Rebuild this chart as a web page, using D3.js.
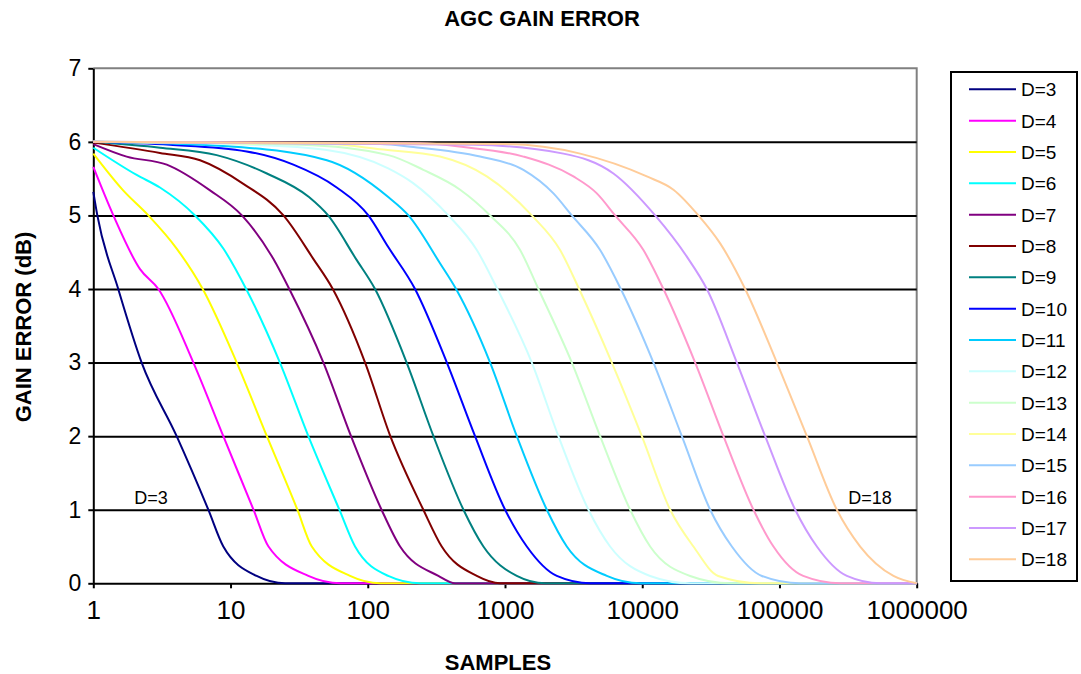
<!DOCTYPE html>
<html>
<head>
<meta charset="utf-8">
<script src="https://cdn.jsdelivr.net/npm/d3@7"></script>
<style>
  body { margin: 0; background: #fff; }
  text { font-family: Arial, "Liberation Sans", sans-serif; }
</style>
</head>
<body>
<div id="chart"></div>
<script>
// Each curve: [samples, gain error (dB)]
const curveD3 = [[1, 5.32], [1.07, 5], [1.52, 4], [2.25, 3], [4.05, 2], [6.89, 1], [8.86, 0.5], [15.5, 0.1], [25, 0], [1e6, 0]];
const curveD4 = [[1, 5.66], [1.4, 5], [2.19, 4.27], [2.98, 4], [5.36, 3], [8.86, 2], [14.7, 1], [18.9, 0.5], [36.9, 0.1], [63, 0], [1e6, 0]];
const curveD5 = [[1, 5.84], [1.65, 5.34], [2.52, 5], [4.05, 4.55], [6.27, 4], [11.1, 3], [18.4, 2], [30.7, 1], [39.1, 0.5], [74.3, 0.1], [123, 0], [1e6, 0]];
const curveD6 = [[1, 5.92], [2.07, 5.55], [3.06, 5.38], [5.51, 5], [8.86, 4.55], [13, 4], [22.9, 3], [36.9, 2], [62.1, 1], [80.8, 0.5], [141, 0.1], [240, 0], [1e6, 0]];
const curveD7 = [[1, 5.97], [1.75, 5.8], [3.43, 5.69], [7.09, 5.34], [12.1, 5], [20.5, 4.41], [26.8, 4], [47.5, 3], [75.5, 2], [126, 1], [172, 0.5], [327, 0.1], [433, 0], [1e6, 0]];
const curveD8 = [[1, 5.99], [3.06, 5.85], [6, 5.75], [12.4, 5.43], [24.3, 5], [40.1, 4.41], [55.6, 4], [95.6, 3], [146, 2], [254, 1], [346, 0.5], [623, 0.1], [921, 0], [1e6, 0]];
const curveD9 = [[1, 6], [3.06, 5.92], [7.93, 5.82], [18.4, 5.57], [37.3, 5.25], [51.4, 5], [82, 4.41], [113, 4], [192, 3], [301, 2], [498, 1], [696, 0.5], [1219, 0.1], [1960, 0], [1e6, 0]];
const curveD10 = [[1, 6], [3.62, 5.96], [13.1, 5.87], [28.7, 5.69], [59.4, 5.38], [101, 5], [141, 4.57], [221, 4], [377, 3], [605, 2], [1002, 1], [1442, 0.5], [2386, 0.1], [4170, 0], [1e6, 0]];
const curveD11 = [[1, 6], [9.38, 5.94], [50.3, 5.75], [141, 5.25], [198, 5], [336, 4.35], [440, 4], [779, 3], [1219, 2], [2017, 1], [2821, 0.5], [5521, 0.1], [9660, 0], [1e6, 0]];
const curveD12 = [[1, 6], [13.9, 5.96], [50.3, 5.89], [141, 5.64], [214, 5.44], [387, 5], [623, 4.53], [880, 4], [1568, 3], [2450, 2], [4055, 1], [5834, 0.5], [11420, 0.1], [22340, 0], [1e6, 0]];
const curveD13 = [[1, 6], [32.1, 5.96], [141, 5.82], [254, 5.62], [471, 5.35], [779, 5], [1289, 4.53], [1752, 4], [3069, 3], [4933, 2], [8164, 1], [11420, 0.5], [22340, 0.1], [43750, 0], [1e6, 0]];
const curveD14 = [[1, 6], [53.1, 5.97], [123, 5.9], [336, 5.8], [737, 5.53], [1568, 5], [2521, 4.53], [3469, 4], [6002, 3], [9933, 2], [15980, 1], [23620, 0.5], [35740, 0.1], [72300, 0], [1e6, 0]];
const curveD15 = [[1, 6], [123, 5.97], [215, 5.93], [658, 5.8], [1362, 5.62], [2254, 5.3], [3069, 5], [4933, 4.53], [6982, 4], [12070, 3], [19440, 2], [31260, 1], [44990, 0.5], [74420, 0.1], [141600, 0], [1e6, 0]];
const curveD16 = [[1, 6], [241, 5.98], [498, 5.93], [1362, 5.8], [3152, 5.53], [4668, 5.3], [6345, 5], [10200, 4.53], [14270, 4], [24300, 3], [39070, 2], [64640, 1], [90420, 0.5], [148900, 0.1], [276700, 0], [1e6, 0]];
const curveD17 = [[1, 6], [588, 5.96], [2666, 5.84], [6166, 5.57], [12420, 5], [21130, 4.44], [29570, 4], [48930, 3], [78670, 2], [130200, 1], [187300, 0.5], [309900, 0.1], [542000, 0], [1e6, 0]];
const curveD18 = [[1, 6], [1031, 5.97], [3527, 5.84], [10800, 5.53], [16880, 5.35], [25680, 5], [36970, 4.62], [56230, 4], [95720, 3], [158400, 2], [262000, 1], [387500, 0.5], [677200, 0.1], [1e6, 0]];

const seriesNames = ["D=3", "D=4", "D=5", "D=6", "D=7", "D=8", "D=9", "D=10",
  "D=11", "D=12", "D=13", "D=14", "D=15", "D=16", "D=17", "D=18"];
const seriesCurves = [curveD3, curveD4, curveD5, curveD6, curveD7, curveD8, curveD9, curveD10,
  curveD11, curveD12, curveD13, curveD14, curveD15, curveD16, curveD17, curveD18];
const seriesColors = ["#000080", "#ff00ff", "#ffff00", "#00ffff", "#800080", "#800000", "#008080", "#0000ff",
  "#00ccff", "#ccffff", "#ccffcc", "#ffff99", "#99ccff", "#ff99cc", "#cc99ff", "#ffcc99"];

const xTicks = [1, 10, 100, 1000, 10000, 100000, 1000000];
const yTicks = [0, 1, 2, 3, 4, 5, 6, 7];
const gridValues = [1, 2, 3, 4, 5, 6];


/*******************************/
/*    Declare the constants    */
/*******************************/
const width = 1081;
const height = 674;
const plot = {left: 93.3, right: 916.7, top: 68.3, bottom: 583.3};

const svg = d3.select("#chart")
  .append("svg")
    .attr("width", width)
    .attr("height", height)
    .attr("viewBox", `0 0 ${width} ${height}`);


/****************************/
/*    Declare the scales    */
/****************************/
const xScale = d3.scaleLog()
  .domain([1, 1e6])
  .range([plot.left, plot.right]);

const yScale = d3.scaleLinear()
  .domain([0, 7])
  .range([plot.bottom, plot.top]);


/**************************/
/*   Frame and gridlines  */
/**************************/
// grey border on top and right like the excel plot area
svg.append("path")
  .attr("d", `M${plot.left},${plot.top}H${plot.right}V${plot.bottom}`)
  .attr("fill", "none")
  .attr("stroke", "#808080")
  .attr("stroke-width", 2);

svg.append("g")
  .attr("transform", `translate(${plot.left},0)`)
  .call(d3.axisLeft(yScale).tickValues(gridValues).tickSize(-(plot.right - plot.left)).tickFormat(""))
  .call(g => g.select(".domain").remove())
  .call(g => g.selectAll("line").attr("stroke", "#000").attr("stroke-width", 2));


/**************************/
/*      Add the axes      */
/**************************/
const leftAxis = d3.axisLeft(yScale)
  .tickValues(yTicks)
  .tickFormat(d3.format("d"))
  .tickSize(5)
  .tickSizeOuter(0)
  .tickPadding(7);
svg.append("g")
    .attr("transform", `translate(${plot.left},0)`)
    .call(leftAxis)
    .call(g => g.select(".domain").attr("stroke-width", 2))
    .call(g => g.selectAll(".tick line").attr("stroke-width", 2))
    .call(g => g.selectAll("text")
      .attr("font-size", 23)
      .attr("fill", "#000")
      .style("font-family", "Arial, 'Liberation Sans', sans-serif"));

const bottomAxis = d3.axisBottom(xScale)
  .tickValues(xTicks)
  .tickFormat(d3.format("d"))
  .tickSize(5)
  .tickSizeOuter(0)
  .tickPadding(12);
svg.append("g")
    .attr("transform", `translate(0,${plot.bottom})`)
    .call(bottomAxis)
    .call(g => g.select(".domain").attr("stroke-width", 2))
    .call(g => g.selectAll(".tick line").attr("stroke-width", 2))
    .call(g => g.selectAll("text")
      .attr("font-size", 26)
      .attr("fill", "#000")
      .style("font-family", "Arial, 'Liberation Sans', sans-serif"));


/**************************/
/*     Draw the curves    */
/**************************/
const lineGen = d3.line()
  .x(d => xScale(d[0]))
  .y(d => yScale(d[1]))
  .curve(d3.curveMonotoneX);

svg.append("g")
  .selectAll("path")
  .data(seriesCurves)
  .join("path")
    .attr("d", d => lineGen(d))
    .attr("fill", "none")
    .attr("stroke", (d, i) => seriesColors[i])
    .attr("stroke-width", 2)
    .attr("stroke-linejoin", "round");


/**************************/
/*     Labels / titles    */
/**************************/
svg.append("text")
  .text("AGC GAIN ERROR")
  .attr("x", 542)
  .attr("y", 26)
  .attr("text-anchor", "middle")
  .attr("font-size", 22)
  .attr("font-weight", "bold");

svg.append("text")
  .text("SAMPLES")
  .attr("x", 498)
  .attr("y", 670)
  .attr("text-anchor", "middle")
  .attr("font-size", 22)
  .attr("font-weight", "bold");

svg.append("text")
  .text("GAIN ERROR (dB)")
  .attr("transform", "translate(31,327) rotate(-90)")
  .attr("text-anchor", "middle")
  .attr("font-size", 22)
  .attr("font-weight", "bold");

svg.append("text")
  .text("D=3")
  .attr("x", 151)
  .attr("y", 504)
  .attr("text-anchor", "middle")
  .attr("font-size", 18);

svg.append("text")
  .text("D=18")
  .attr("x", 870)
  .attr("y", 504)
  .attr("text-anchor", "middle")
  .attr("font-size", 18);


/**************************/
/*       The legend       */
/**************************/
const legend = svg.append("g");
legend.append("rect")
  .attr("x", 951)
  .attr("y", 72)
  .attr("width", 126)
  .attr("height", 509)
  .attr("fill", "#fff")
  .attr("stroke", "#000")
  .attr("stroke-width", 2);

const rowY = d3.scalePoint()
  .domain(seriesNames)
  .range([89.3, 559.3]);

const items = legend.selectAll(".item")
  .data(seriesNames)
  .join("g")
    .attr("class", "item")
    .attr("transform", d => `translate(0,${rowY(d)})`);

items.append("line")
  .attr("x1", 969)
  .attr("x2", 1016)
  .attr("stroke", (d, i) => seriesColors[i])
  .attr("stroke-width", 2);

items.append("text")
  .text(d => d)
  .attr("x", 1021)
  .attr("y", 7)
  .attr("font-size", 19);
</script>
</body>
</html>
